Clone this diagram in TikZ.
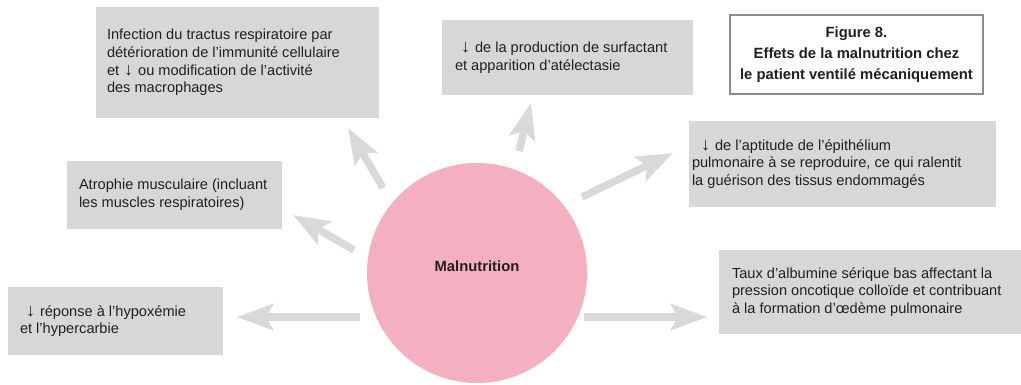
\documentclass[tikz,border=0pt]{standalone}
\usepackage{fontspec}
\setmainfont{Liberation Sans}
\usetikzlibrary{arrows.meta,positioning}
\definecolor{boxgrey}{RGB}{215,215,215}
\definecolor{arrgrey}{RGB}{217,217,217}
\definecolor{malpink}{RGB}{244,175,192}
\definecolor{txtdark}{RGB}{35,31,32}
\definecolor{framegrey}{RGB}{140,140,140}
\newcommand{\dn}{\raisebox{-0.5pt}{\fontsize{18}{17}\selectfont↓}}

\begin{document}
\begin{tikzpicture}[x=1pt, y=-1pt,
    box/.style={rectangle, fill=boxgrey, inner sep=0pt},
    txt/.style={anchor=west, inner sep=0pt, align=left, text=txtdark,
        font=\fontsize{14.6}{17.6}\selectfont},
    arr/.style={-{Stealth[length=36pt, width=26pt, inset=7pt]}, line width=7.5pt, arrgrey}
]
    \useasboundingbox (0,0) rectangle (1021,384);

    % Central circle
    \node[circle, fill=malpink, minimum size=220pt, inner sep=0pt, text=txtdark,
        font=\fontsize{14.8}{17}\selectfont\bfseries] (mal) at (477,273)
        {\raisebox{13pt}{Malnutrition}};

    % Effect boxes
    \node[box, minimum width=283pt, minimum height=111pt] (infect) at (237.5,62.5) {};
    \node[txt] (infect-t) at ([xshift=11pt]infect.west)
        {Infection du tractus respiratoire par\\détérioration de l’immunité cellulaire\\et\hspace{5pt}\dn\hspace{5pt}ou modification de l’activité\\des macrophages};

    \node[box, minimum width=251pt, minimum height=75pt] (surf) at (567.5,57.5) {};
    \node[txt] (surf-t) at ([xshift=13pt]surf.west)
        {\hspace*{6pt}\dn\hspace{5pt}de la production de surfactant\\et apparition d’atélectasie};

    \node[box, minimum width=215pt, minimum height=68pt] (atro) at (174.5,195) {};
    \node[txt] (atro-t) at ([xshift=12pt]atro.west)
        {Atrophie musculaire (incluant\\les muscles respiratoires)};

    \node[box, minimum width=215pt, minimum height=68pt] (hypox) at (115.5,321) {};
    \node[txt] (hypox-t) at ([xshift=12pt]hypox.west)
        {\hspace*{6pt}\dn\hspace{5pt}réponse à l’hypoxémie\\et l’hypercarbie};

    \node[box, minimum width=307pt, minimum height=86pt] (epith) at (842.5,164) {};
    \node[txt] (epith-t) at ([xshift=3pt]epith.west)
        {\hspace*{9pt}\dn\hspace{5pt}de l’aptitude de l’épithélium\\pulmonaire à se reproduire, ce qui ralentit\\la guérison des tissus endommagés};

    \node[box, minimum width=302pt, minimum height=84pt] (albu) at (870,292) {};
    \node[txt] (albu-t) at ([xshift=13pt]albu.west)
        {Taux d’albumine sérique bas affectant la\\pression oncotique colloïde et contribuant\\à la formation d’œdème pulmonaire};

    % Title
    \node[rectangle, draw=framegrey, line width=1.2pt, fill=white, minimum width=253pt,
        minimum height=79pt, align=center, text=txtdark,
        font=\fontsize{14.8}{20.7}\selectfont\bfseries] (title) at (856.5,54.5)
        {Figure 8.\\Effets de la malnutrition chez\\le patient ventilé mécaniquement};

    % Arrow ends
    \coordinate (hypox-from) at (360,317);
    \coordinate (hypox-to) at (237,317);
    \coordinate (albu-from) at (584,317);
    \coordinate (albu-to) at (707,317);
    \coordinate (atro-from) at (354,250);
    \coordinate (atro-to) at (293,215);
    \coordinate (infect-from) at (383,188);
    \coordinate (infect-to) at (348,128);
    \coordinate (surf-from) at (519,151);
    \coordinate (surf-to) at (531,103);
    \coordinate (epith-from) at (582,197);
    \coordinate (epith-to) at (673,153);

    % Arrows
    \draw[arr] (hypox-from) -- (hypox-to);
    \draw[arr] (albu-from) -- (albu-to);
    \draw[arr] (atro-from) -- (atro-to);
    \draw[arr] (infect-from) -- (infect-to);
    \draw[arr] (surf-from) -- (surf-to);
    \draw[arr] (epith-from) -- (epith-to);
\end{tikzpicture}
\end{document}
